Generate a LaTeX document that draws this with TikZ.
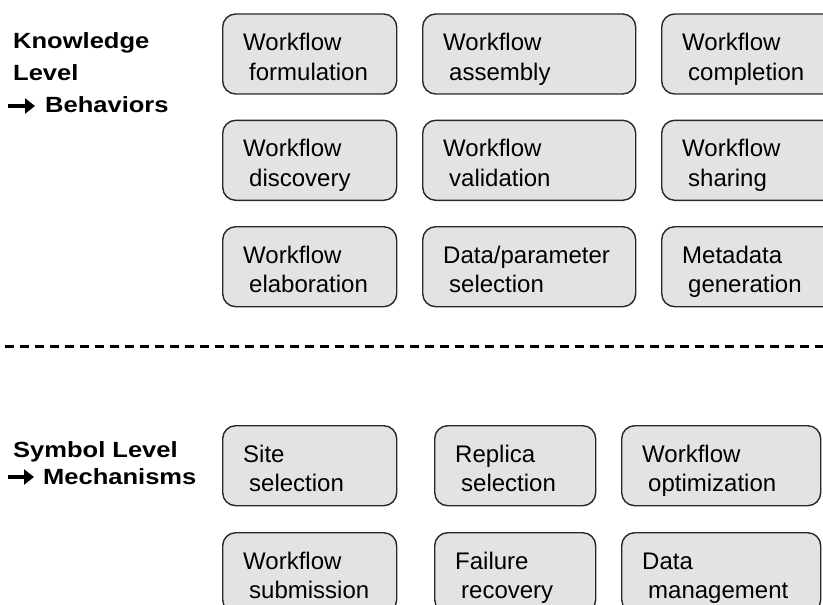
\documentclass[tikz,border=0pt]{standalone}
\usepackage{fontspec}
\setmainfont{Liberation Sans}
\newfontface\lblfont{Liberation Sans Bold}[FakeStretch=1.16]
\usetikzlibrary{calc,arrows.meta}
\definecolor{boxfill}{RGB}{227,227,227}
\definecolor{boxline}{RGB}{40,40,40}
\newcommand\wfbox[5]{%
  \node[box, minimum width=#4pt] (#1) at (#2,#3) {};
  \node[btxt] (#1t) at ($(#1.north west)+(21,16.4)$) {#5};
}
\begin{document}
\begin{tikzpicture}[x=1pt,y=-1pt,
  box/.style={draw=boxline, line width=1.4pt, fill=boxfill, rounded corners=13pt,
    minimum height=80pt, inner sep=0pt, anchor=north west},
  btxt/.style={font=\fontsize{24}{29.5}\selectfont, align=left, inner sep=0pt, anchor=north west},
  lbl/.style={font=\lblfont\fontsize{22}{32}\selectfont, inner sep=0pt, anchor=base west},
  lvlarrow/.style={line width=3.4pt, -{Triangle[length=10pt,width=15pt]}},
  sepline/.style={line width=3pt, dash pattern=on 9pt off 6pt}]
\clip (0,0) rectangle (823,605);
\useasboundingbox (0,0) rectangle (823,605);

% left labels
\node[lbl] (kn) at (13,48) {Knowledge};
\node[lbl] (lv) at (13,80) {Level};
\node[lbl] (be) at (45,112) {Behaviors};
\coordinate (a1s) at (8,106);
\coordinate (a1e) at (35,106);
\draw[lvlarrow] (a1s) -- (a1e);

\node[lbl] (sy) at (13,457) {Symbol Level};
\node[lbl] (me) at (43,484) {Mechanisms};
\coordinate (a2s) at (8,477);
\coordinate (a2e) at (34,477);
\draw[lvlarrow] (a2s) -- (a2e);

% knowledge-level boxes
\wfbox{k11}{222}{13.3}{174}{\strut Workflow\\\hspace*{6pt}formulation}
\wfbox{k12}{422}{13.3}{213}{\strut Workflow\\\hspace*{6pt}assembly}
\wfbox{k13}{661}{13.3}{180}{\strut Workflow\\\hspace*{6pt}completion}
\wfbox{k21}{222}{119.6}{174}{\strut Workflow\\\hspace*{6pt}discovery}
\wfbox{k22}{422}{119.6}{213}{\strut Workflow\\\hspace*{6pt}validation}
\wfbox{k23}{661}{119.6}{180}{\strut Workflow\\\hspace*{6pt}sharing}
\wfbox{k31}{222}{226}{174}{\strut Workflow\\\hspace*{6pt}elaboration}
\wfbox{k32}{422}{226}{213}{\strut Data/parameter\\\hspace*{6pt}selection}
\wfbox{k33}{661}{226}{180}{\strut Metadata\\\hspace*{6pt}generation}

% separator
\coordinate (dl) at (5,346);
\coordinate (dr) at (835,346);
\draw[sepline] (dl) -- (dr);

% symbol-level boxes
\wfbox{s11}{222}{425}{174}{\strut Site\\\hspace*{6pt}selection}
\wfbox{s12}{434}{425}{161}{\strut Replica\\\hspace*{6pt}selection}
\wfbox{s13}{621}{425}{199}{\strut Workflow\\\hspace*{6pt}optimization}
\wfbox{s21}{222}{532}{174}{\strut Workflow\\\hspace*{6pt}submission}
\wfbox{s22}{434}{532}{161}{\strut Failure\\\hspace*{6pt}recovery}
\wfbox{s23}{621}{532}{199}{\strut Data\\\hspace*{6pt}management}
\end{tikzpicture}
\end{document}
